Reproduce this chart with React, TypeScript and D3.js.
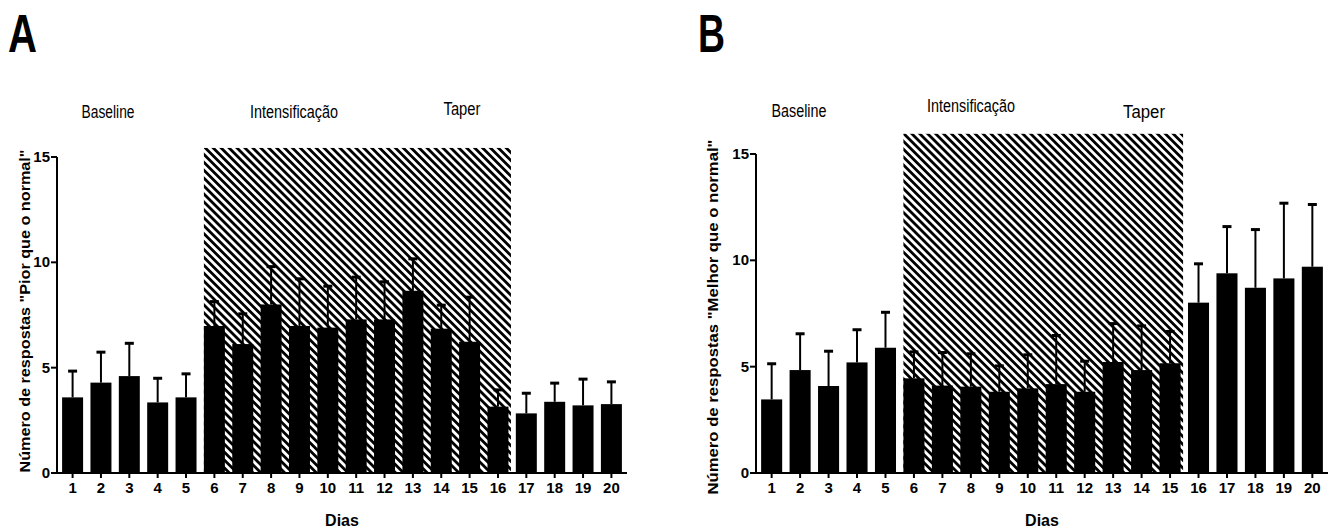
import React from "react";
import * as d3 from "d3";

const days = d3.range(1, 21).map(String);
const meansA = [3.59, 4.29, 4.6, 3.35, 3.59, 6.98, 6.12, 8.0, 6.98, 6.9, 7.29, 7.29, 8.65, 6.85, 6.23, 3.15, 2.83, 3.38, 3.21, 3.27];
const upperA = [4.86, 5.76, 6.18, 4.52, 4.73, 8.16, 7.58, 9.82, 9.24, 8.89, 9.32, 9.1, 10.19, 7.99, 8.37, 3.97, 3.81, 4.29, 4.48, 4.35];
const meansB = [3.46, 4.84, 4.09, 5.2, 5.89, 4.45, 4.11, 4.06, 3.82, 3.98, 4.18, 3.82, 5.22, 4.84, 5.16, 8.01, 9.39, 8.71, 9.15, 9.7];
const upperB = [5.16, 6.57, 5.75, 6.76, 7.58, 5.72, 5.69, 5.63, 5.06, 5.58, 6.49, 5.28, 7.05, 6.94, 6.68, 9.86, 11.61, 11.47, 12.71, 12.65];
const yTicks = [0, 5, 10, 15];
const phaseLabels = ["Baseline", "Intensificação", "Taper"];
const titleA = "Número de respostas \"Pior que o normal\"";
const titleB = "Número de respostas \"Melhor  que o normal\"";
const xTitle = "Dias";

const FONT = "'Liberation Sans Narrow', 'Liberation Sans', Arial, sans-serif";
const FONT_WIDE = "'Liberation Sans', Arial, sans-serif";

type PanelProps = {
  letter: string;
  letterX: number;
  letterLen: number;
  means: number[];
  upper: number[];
  x0: number;
  x1: number;
  yTop: number;
  hatchFrom: string;
  hatchTo: string;
  hatchTop: number;
  title: string;
  titleX: number;
  titleCenter: number;
  titleLen: number;
  labels: { x: number; y: number; len: number }[];
  diasX: number;
};

function Panel(p: PanelProps) {
  const y0 = 473;
  const x = d3.scaleBand<string>().domain(days).range([p.x0, p.x1]).paddingInner(0.26).paddingOuter(0.18);
  const y = d3.scaleLinear().domain([0, 15]).range([y0, p.yTop]);
  const bw = x.bandwidth();
  const hx0 = x(p.hatchFrom)!;
  const hx1 = x(p.hatchTo)! + bw + 2.5;
  return (
    <g>
      <text x={p.letterX} y={52} fontFamily={FONT_WIDE} fontWeight="bold" fontSize={54} textLength={p.letterLen} lengthAdjust="spacingAndGlyphs">{p.letter}</text>
      {phaseLabels.map((t, i) => (
        <text key={t} x={p.labels[i].x} y={p.labels[i].y} textAnchor="middle" fontFamily={FONT} fontSize={17.5} textLength={p.labels[i].len} lengthAdjust="spacingAndGlyphs">{t}</text>
      ))}
      <rect x={hx0} y={y(p.hatchTop)} width={hx1 - hx0} height={y0 - y(p.hatchTop)} fill="url(#hatch)" />
      {days.map((d, i) => {
        const cx = x(d)! + bw / 2;
        return (
          <g key={d}>
            <line x1={cx} x2={cx} y1={y(p.means[i])} y2={y(p.upper[i])} stroke="#000" strokeWidth={2} />
            <line x1={cx - 4.5} x2={cx + 4.5} y1={y(p.upper[i]) + 0.5} y2={y(p.upper[i]) + 0.5} stroke="#000" strokeWidth={3} />
            <rect x={x(d)!} y={y(p.means[i])} width={bw} height={y0 - y(p.means[i])} fill="#000" />
            <line x1={cx} x2={cx} y1={y0} y2={y0 + 5} stroke="#000" strokeWidth={2} />
            <text x={cx} y={493} textAnchor="middle" fontFamily={FONT} fontWeight="bold" fontSize={15}>{d}</text>
          </g>
        );
      })}
      <line x1={p.x0} x2={p.x1} y1={y0} y2={y0} stroke="#000" strokeWidth={2} />
      <line x1={p.x0} x2={p.x0} y1={y0 + 1} y2={y(15)} stroke="#000" strokeWidth={2} />
      {yTicks.map((t) => (
        <g key={t}>
          <line x1={p.x0 - 6} x2={p.x0} y1={y(t)} y2={y(t)} stroke="#000" strokeWidth={2} />
          <text x={p.x0 - 7} y={y(t) + 5} textAnchor="end" fontFamily={FONT} fontWeight="bold" fontSize={15}>{t}</text>
        </g>
      ))}
      <text transform={`translate(${p.titleX},${p.titleCenter}) rotate(-90)`} textAnchor="middle" fontFamily={FONT} fontWeight="bold" fontSize={15} textLength={p.titleLen} lengthAdjust="spacingAndGlyphs">{p.title}</text>
      <text x={p.diasX} y={526} textAnchor="middle" fontFamily={FONT} fontWeight="bold" fontSize={16}>{xTitle}</text>
    </g>
  );
}

export default function App() {
  return (
    <svg width={1335} height={529} style={{ position: "absolute", left: 0, top: 0, background: "#fff" }}>
      <defs>
        <pattern id="hatch" patternUnits="userSpaceOnUse" width={5.6} height={5.6} patternTransform="rotate(-45)">
          <rect x={0} y={0} width={2.8} height={5.6} fill="#000" />
        </pattern>
      </defs>
      <Panel
        letter="A" letterX={8} letterLen={29}
        means={meansA} upper={upperA}
        x0={57} x1={627} yTop={157}
        hatchFrom="6" hatchTo="16" hatchTop={15.43}
        title={titleA} titleX={30} titleCenter={311} titleLen={323}
        labels={[{ x: 108, y: 118, len: 53 }, { x: 294, y: 118, len: 88 }, { x: 462, y: 115, len: 37 }]}
        diasX={342}
      />
      <Panel
        letter="B" letterX={698} letterLen={27}
        means={meansB} upper={upperB}
        x0={756} x1={1328} yTop={154}
        hatchFrom="6" hatchTo="15" hatchTop={15.95}
        title={titleB} titleX={718} titleCenter={317} titleLen={355}
        labels={[{ x: 799, y: 117, len: 55 }, { x: 971, y: 112, len: 88 }, { x: 1144, y: 118, len: 42 }]}
        diasX={1042}
      />
    </svg>
  );
}
